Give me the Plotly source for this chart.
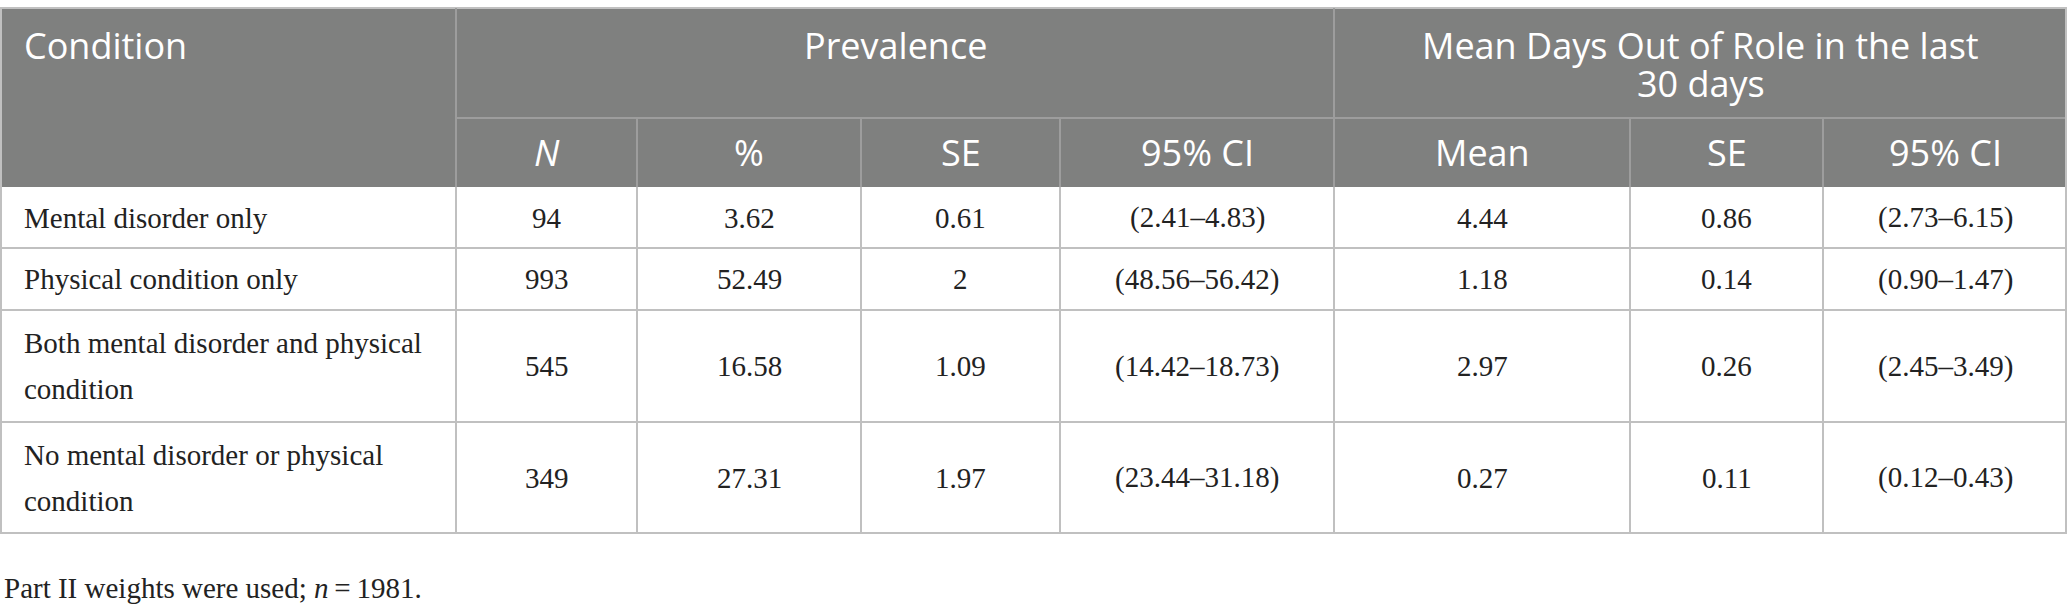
import plotly.graph_objects as go

# table content
conditions = [
    "Mental disorder only",
    "Physical condition only",
    "Both mental disorder and physical\ncondition",
    "No mental disorder or physical\ncondition",
]
prev_n = [94, 993, 545, 349]
prev_pct = [3.62, 52.49, 16.58, 27.31]
prev_se = [0.61, 2, 1.09, 1.97]
prev_ci_low = [2.41, 48.56, 14.42, 23.44]
prev_ci_high = [4.83, 56.42, 18.73, 31.18]
days_mean = [4.44, 1.18, 2.97, 0.27]
days_se = [0.86, 0.14, 0.26, 0.11]
days_ci_low = [2.73, 0.90, 2.45, 0.12]
days_ci_high = [6.15, 1.47, 3.49, 0.43]

group_labels = ["Prevalence", "Mean Days Out of Role in the last\n30 days"]
sub_labels = ["<i>N</i>", "%", "SE", "95% CI", "Mean", "SE", "95% CI"]
footnote = "Part II weights were used; <i>n</i>\u2009=\u20091981."

# geometry (pixels)
W, H = 2067, 614
col_widths = [456, 181, 224, 199, 274, 296, 193, 244]
top = 8
head1_h, head2_h = 110, 69
row_heights = [61, 62, 112, 111]

header_bg = "#7f807f"
header_line = "#9d9d9d"
grid = "#c0c0c0"
sans = "Open Sans"
serif = "Liberation Serif"
head_size, body_size = 36, 29


def fmt(v):
    return str(v) if isinstance(v, int) else f"{v:.2f}"


edges = [0]
for w in col_widths:
    edges.append(edges[-1] + w)
centers = [(edges[i] + edges[i + 1]) / 2 for i in range(len(col_widths))]

y_h1 = top + head1_h
y_h2 = y_h1 + head2_h
row_edges = [y_h2]
for h in row_heights:
    row_edges.append(row_edges[-1] + h)

rows = []
for i in range(len(conditions)):
    rows.append([
        fmt(prev_n[i]), fmt(prev_pct[i]), fmt(prev_se[i]),
        f"({fmt(prev_ci_low[i])}\u2013{fmt(prev_ci_high[i])})",
        fmt(days_mean[i]), fmt(days_se[i]),
        f"({fmt(days_ci_low[i])}\u2013{fmt(days_ci_high[i])})",
    ])

fig = go.Figure()
fig.add_trace(go.Scatter(x=[], y=[], showlegend=False))

shapes = []
annotations = []


def line(x0, y0, x1, y1, color):
    shapes.append(dict(type="line", xref="x", yref="y", x0=x0, y0=y0, x1=x1, y1=y1,
                       line=dict(color=color, width=2), layer="above"))


def text(x, y, s, size, family, color="#222222", anchor="center"):
    annotations.append(dict(x=x, y=y, xref="x", yref="y", text=s, showarrow=False,
                            xanchor=anchor, yanchor="middle",
                            font=dict(size=size, family=family, color=color)))


# header background
shapes.append(dict(type="rect", xref="x", yref="y", x0=edges[0], x1=edges[-1], y0=top, y1=y_h2,
                   fillcolor=header_bg, line=dict(width=0), layer="below"))

# header lines
line(edges[0], top, edges[-1], top, grid)
line(edges[1], y_h1, edges[-1], y_h1, header_line)
line(edges[1], top, edges[1], y_h2, header_line)
line(edges[5], top, edges[5], y_h2, header_line)
for k in [2, 3, 4, 6, 7]:
    line(edges[k], y_h1, edges[k], y_h2, header_line)

# body grid
for y in row_edges[1:]:
    line(edges[0], y, edges[-1], y, grid)
for k, x in enumerate(edges):
    xx = min(max(x, 1), W - 1)
    y0 = top if k in (0, len(edges) - 1) else y_h2
    line(xx, y0, xx, row_edges[-1], grid)

# header text
text(22, 45, "Condition", head_size, sans, "white", "left")
text((edges[1] + edges[5]) / 2, 45, group_labels[0], head_size, sans, "white")
g2 = group_labels[1].split("\n")
text((edges[5] + edges[-1]) / 2, 45, g2[0], head_size, sans, "white")
text((edges[5] + edges[-1]) / 2, 83, g2[1], head_size, sans, "white")
for j, lab in enumerate(sub_labels):
    text(centers[j + 1], 152, lab, head_size, sans, "white")

# body text
for i, cond in enumerate(conditions):
    yc = (row_edges[i] + row_edges[i + 1]) / 2
    parts = cond.split("\n")
    if len(parts) == 1:
        text(22, yc, parts[0], body_size, serif, anchor="left")
    else:
        text(22, yc - 23, parts[0], body_size, serif, anchor="left")
        text(22, yc + 23, parts[1], body_size, serif, anchor="left")
    for j, val in enumerate(rows[i]):
        text(centers[j + 1], yc, val, body_size, serif)

text(2, 588, footnote, body_size, serif, anchor="left")

fig.update_layout(
    width=W, height=H,
    margin=dict(l=0, r=0, t=0, b=0),
    paper_bgcolor="white", plot_bgcolor="white",
    xaxis=dict(range=[0, W], visible=False, fixedrange=True),
    yaxis=dict(range=[H, 0], visible=False, fixedrange=True),
    shapes=shapes, annotations=annotations,
)

# drop the default page margin so the figure sits at the window corner
fig.write_html(
    "out.html",
    config={"displayModeBar": False},
    post_script="document.body.style.margin='0';document.body.style.overflow='hidden';",
)
